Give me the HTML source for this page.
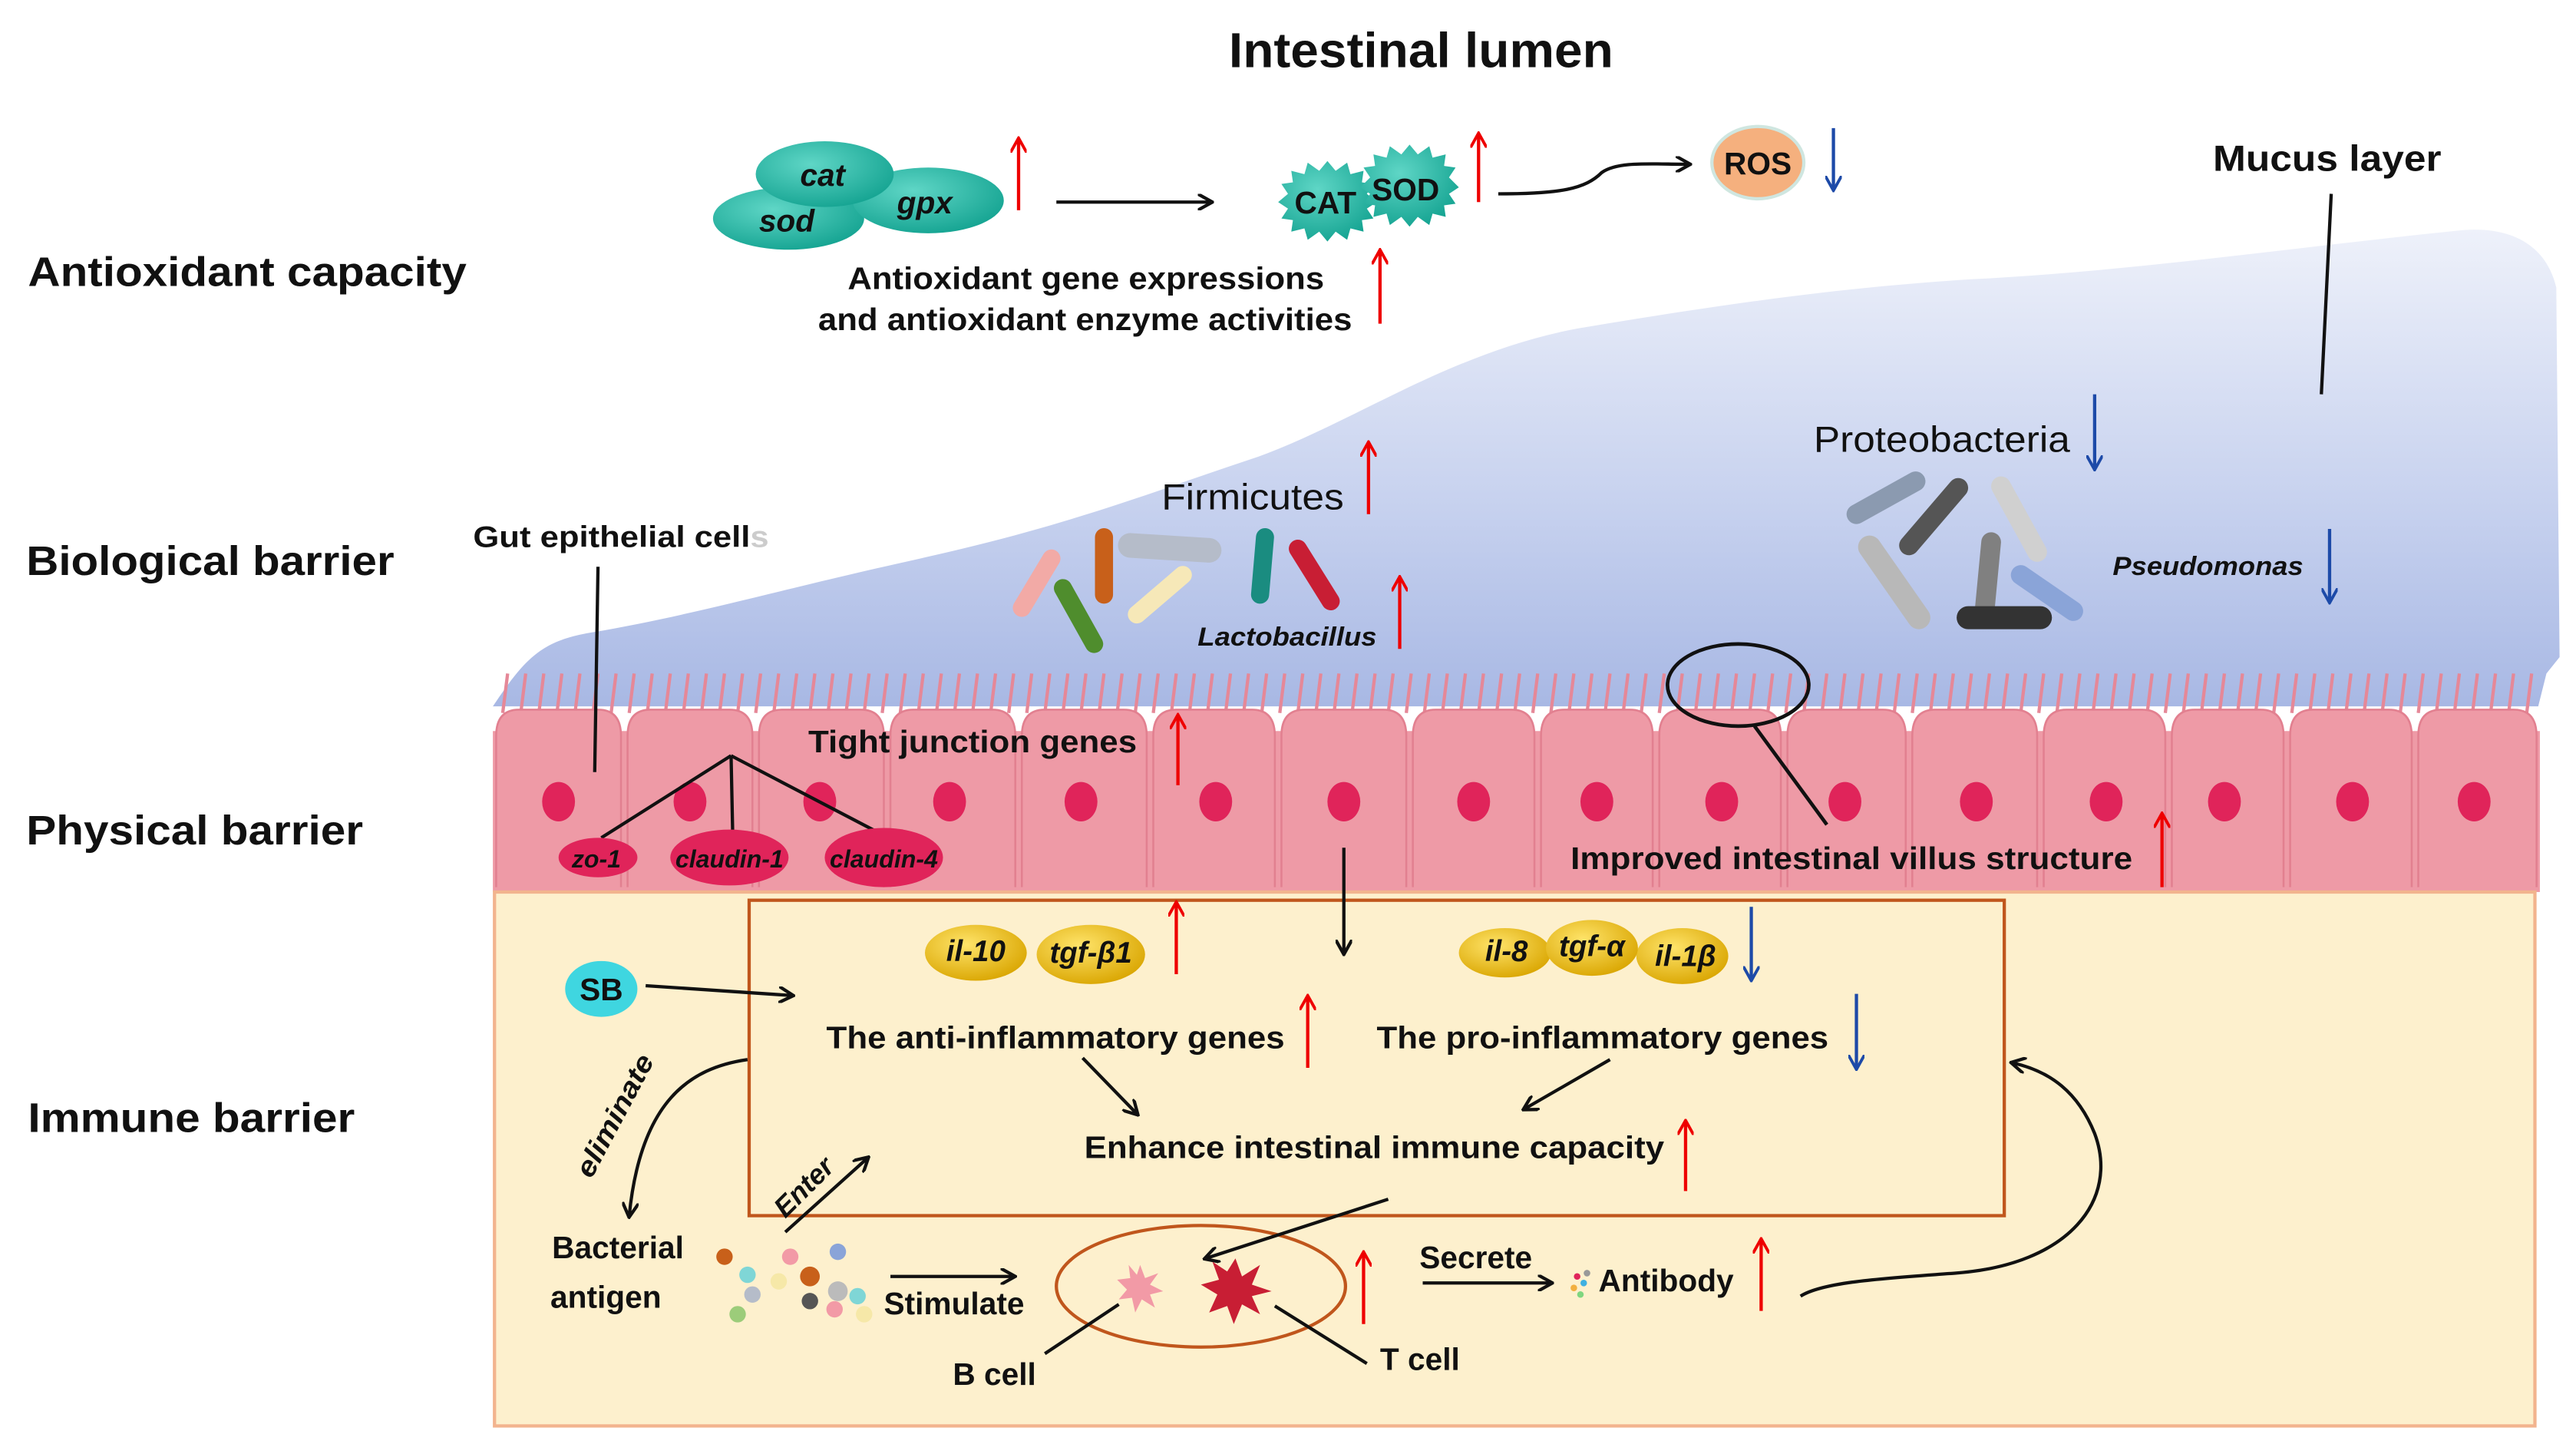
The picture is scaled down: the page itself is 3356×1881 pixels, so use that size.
<!DOCTYPE html>
<html><head><meta charset="utf-8"><style>
html,body{margin:0;padding:0;background:#fff;}
svg{display:block;}
text{font-family:"Liberation Sans",Arial,sans-serif;font-weight:bold;}
</style></head><body>
<svg width="3356" height="1881" viewBox="0 0 1568 879" preserveAspectRatio="none" xmlns="http://www.w3.org/2000/svg">
<defs>
<linearGradient id="mu" x1="0" y1="0" x2="0" y2="1">
<stop offset="0" stop-color="#eef1fa"/><stop offset="0.6" stop-color="#c5d0ee"/><stop offset="1" stop-color="#a8b8e4"/></linearGradient>
<radialGradient id="tl" cx="0.4" cy="0.35" r="0.7"><stop offset="0" stop-color="#5fd6c6"/><stop offset="1" stop-color="#14a391"/></radialGradient>
<radialGradient id="yl" cx="0.4" cy="0.35" r="0.7"><stop offset="0" stop-color="#ffe46a"/><stop offset="1" stop-color="#d9a500"/></radialGradient>
<marker id="ak" markerWidth="10" markerHeight="10" refX="8" refY="5" orient="auto" markerUnits="userSpaceOnUse"><path d="M0,0 L9,5 L0,10" fill="none" stroke="#111" stroke-width="2"/></marker>
<marker id="ar" markerWidth="10" markerHeight="10" refX="8" refY="5" orient="auto" markerUnits="userSpaceOnUse"><path d="M0,0 L9,5 L0,10" fill="none" stroke="#e00" stroke-width="1.8"/></marker>
<marker id="ab" markerWidth="10" markerHeight="10" refX="8" refY="5" orient="auto" markerUnits="userSpaceOnUse"><path d="M0,0 L9,5 L0,10" fill="none" stroke="#1d4aa8" stroke-width="1.8"/></marker>
</defs>

<path d="M300,430 C320,400 330,390 360,385 C420,375 470,360 560,340 C650,320 700,300 760,280 C820,260 880,215 960,200 C1050,185 1120,175 1200,170 C1300,165 1400,150 1500,140 C1530,138 1550,150 1556,175 L1558,400 L1550,410 L1545,430 Z" fill="url(#mu)"/>
<g stroke="#e58898" stroke-width="2" id="villi"></g>
<rect x="300" y="445" width="1246" height="98" fill="#ee9aa6"/>
<path fill="#ee9aa6" stroke="#e28090" stroke-width="1.2" d="
M302,540 L302,448 Q302,432 316,432 L364,432 Q378,432 378,448 L378,540
M382,540 L382,448 Q382,432 396,432 L444,432 Q458,432 458,448 L458,540
M462,540 L462,448 Q462,432 476,432 L524,432 Q538,432 538,448 L538,540
M542,540 L542,448 Q542,432 556,432 L604,432 Q618,432 618,448 L618,540
M622,540 L622,448 Q622,432 636,432 L684,432 Q698,432 698,448 L698,540
M702,540 L702,448 Q702,432 716,432 L762,432 Q776,432 776,448 L776,540
M780,540 L780,448 Q780,432 794,432 L842,432 Q856,432 856,448 L856,540
M860,540 L860,448 Q860,432 874,432 L920,432 Q934,432 934,448 L934,540
M938,540 L938,448 Q938,432 952,432 L992,432 Q1006,432 1006,448 L1006,540
M1010,540 L1010,448 Q1010,432 1024,432 L1070,432 Q1084,432 1084,448 L1084,540
M1088,540 L1088,448 Q1088,432 1102,432 L1146,432 Q1160,432 1160,448 L1160,540
M1164,540 L1164,448 Q1164,432 1178,432 L1226,432 Q1240,432 1240,448 L1240,540
M1244,540 L1244,448 Q1244,432 1258,432 L1304,432 Q1318,432 1318,448 L1318,540
M1322,540 L1322,448 Q1322,432 1336,432 L1376,432 Q1390,432 1390,448 L1390,540
M1394,540 L1394,448 Q1394,432 1408,432 L1454,432 Q1468,432 1468,448 L1468,540
M1472,540 L1472,448 Q1472,432 1486,432 L1530,432 Q1544,432 1544,448 L1544,540"/>
<g fill="#e0245a">
<ellipse cx="340" cy="488" rx="10" ry="12"/><ellipse cx="420" cy="488" rx="10" ry="12"/><ellipse cx="499" cy="488" rx="10" ry="12"/><ellipse cx="578" cy="488" rx="10" ry="12"/><ellipse cx="658" cy="488" rx="10" ry="12"/><ellipse cx="740" cy="488" rx="10" ry="12"/><ellipse cx="818" cy="488" rx="10" ry="12"/><ellipse cx="897" cy="488" rx="10" ry="12"/><ellipse cx="972" cy="488" rx="10" ry="12"/><ellipse cx="1048" cy="488" rx="10" ry="12"/><ellipse cx="1123" cy="488" rx="10" ry="12"/><ellipse cx="1203" cy="488" rx="10" ry="12"/><ellipse cx="1282" cy="488" rx="10" ry="12"/><ellipse cx="1354" cy="488" rx="10" ry="12"/><ellipse cx="1432" cy="488" rx="10" ry="12"/><ellipse cx="1506" cy="488" rx="10" ry="12"/>
</g>

<rect x="301" y="543" width="1242" height="325" fill="#fdf0cd" stroke="#f2b48e" stroke-width="2"/>
<rect x="456" y="548" width="764" height="192" fill="none" stroke="#c0561c" stroke-width="2"/>

<text x="748" y="41" font-size="30" textLength="234" lengthAdjust="spacingAndGlyphs" fill="#111">Intestinal lumen</text>
<g font-size="25" fill="#111">
<text x="17" y="174" textLength="267" lengthAdjust="spacingAndGlyphs">Antioxidant capacity</text>
<text x="16" y="350" textLength="224" lengthAdjust="spacingAndGlyphs">Biological barrier</text>
<text x="16" y="514" textLength="205" lengthAdjust="spacingAndGlyphs">Physical barrier</text>
<text x="17" y="689" textLength="199" lengthAdjust="spacingAndGlyphs">Immune barrier</text>
</g>

<ellipse cx="480" cy="133" rx="46" ry="19" fill="url(#tl)"/>
<ellipse cx="565" cy="122" rx="46" ry="20" fill="url(#tl)"/>
<ellipse cx="502" cy="106" rx="42" ry="20" fill="url(#tl)"/>
<g font-size="19" fill="#111" font-style="italic"><text x="487" y="113">cat</text><text x="462" y="141">sod</text><text x="546" y="130">gpx</text></g>
<line x1="620" y1="128" x2="620" y2="85" stroke="#e00" stroke-width="2" marker-end="url(#ar)"/>
<line x1="643" y1="123" x2="737" y2="123" stroke="#111" stroke-width="2" marker-end="url(#ak)"/>
<polygon points="808,98 813,104 820,99 822,106 830,104 829,111 836,112 832,118 838,123 832,127 836,133 829,134 830,141 822,139 820,146 813,141 808,147 803,141 796,146 794,139 786,141 787,134 780,133 784,127 778,123 784,118 780,112 787,111 786,104 794,106 796,99 803,104" fill="url(#tl)"/>
<polygon points="858,88 863,94 870,89 872,96 880,94 879,101 886,102 882,108 888,114 882,118 886,124 879,125 880,132 872,130 870,137 863,132 858,138 853,132 846,137 844,130 836,132 837,125 830,124 834,118 828,114 834,108 830,102 837,101 836,94 844,96 846,89 853,94" fill="url(#tl)"/>
<g font-size="19" fill="#111"><text x="788" y="130">CAT</text><text x="835" y="122">SOD</text></g>
<line x1="900" y1="123" x2="900" y2="82" stroke="#e00" stroke-width="2" marker-end="url(#ar)"/>
<path d="M912,118 C950,118 965,115 975,105 C985,98 1005,100 1028,100" fill="none" stroke="#111" stroke-width="2" marker-end="url(#ak)"/>
<ellipse cx="1070" cy="99" rx="28" ry="22" fill="#f5b07e" stroke="#cfe6e0" stroke-width="2"/>
<text x="1070" y="106" font-size="19" text-anchor="middle" fill="#111">ROS</text>
<line x1="1116" y1="78" x2="1116" y2="115" stroke="#1d4aa8" stroke-width="2" marker-end="url(#ab)"/>
<g font-size="19" fill="#111"><text x="516" y="176" textLength="290" lengthAdjust="spacingAndGlyphs">Antioxidant gene expressions</text><text x="498" y="201" textLength="325" lengthAdjust="spacingAndGlyphs">and antioxidant enzyme activities</text></g>
<line x1="840" y1="197" x2="840" y2="153" stroke="#e00" stroke-width="2" marker-end="url(#ar)"/>

<text x="1347" y="104" font-size="22" textLength="139" lengthAdjust="spacingAndGlyphs" fill="#111">Mucus layer</text>
<line x1="1419" y1="118" x2="1413" y2="240" stroke="#111" stroke-width="2"/>

<text x="707" y="310" font-size="22" style="font-weight:normal" textLength="111" lengthAdjust="spacingAndGlyphs" fill="#111">Firmicutes</text>
<line x1="833" y1="313" x2="833" y2="270" stroke="#e00" stroke-width="2" marker-end="url(#ar)"/>
<g stroke-linecap="round" stroke-width="11">
<line x1="622" y1="370" x2="640" y2="340" stroke="#f2aaa6"/>
<line x1="647" y1="358" x2="666" y2="392" stroke="#4f8d2d"/>
<line x1="672" y1="327" x2="672" y2="362" stroke="#c8601a"/>
<line x1="688" y1="332" x2="736" y2="335" stroke="#b5bcc9" stroke-width="15"/>
<line x1="692" y1="374" x2="720" y2="350" stroke="#f6e8b8"/>
<line x1="770" y1="327" x2="767" y2="362" stroke="#1a8c80"/>
<line x1="790" y1="334" x2="810" y2="366" stroke="#c81e34"/>
</g>
<text x="729" y="393" font-size="16" font-style="italic" textLength="109" lengthAdjust="spacingAndGlyphs" fill="#111">Lactobacillus</text>
<line x1="852" y1="395" x2="852" y2="352" stroke="#e00" stroke-width="2" marker-end="url(#ar)"/>
<text x="1104" y="275" font-size="22" style="font-weight:normal" textLength="156" lengthAdjust="spacingAndGlyphs" fill="#111">Proteobacteria</text>
<line x1="1275" y1="240" x2="1275" y2="285" stroke="#1d4aa8" stroke-width="2" marker-end="url(#ab)"/>
<g stroke-linecap="round" stroke-width="12">
<line x1="1130" y1="313" x2="1166" y2="293" stroke="#8b9ab0"/>
<line x1="1162" y1="332" x2="1192" y2="297" stroke="#555"/>
<line x1="1218" y1="296" x2="1240" y2="336" stroke="#d0d0d0"/>
<line x1="1138" y1="333" x2="1168" y2="376" stroke="#b8b8b8" stroke-width="14"/>
<line x1="1212" y1="330" x2="1208" y2="372" stroke="#808080"/>
<line x1="1198" y1="376" x2="1242" y2="376" stroke="#333" stroke-width="14"/>
<line x1="1230" y1="350" x2="1262" y2="372" stroke="#8aa4d8"/>
</g>
<text x="1286" y="350" font-size="16" font-style="italic" textLength="116" lengthAdjust="spacingAndGlyphs" fill="#111">Pseudomonas</text>
<line x1="1418" y1="322" x2="1418" y2="366" stroke="#1d4aa8" stroke-width="2" marker-end="url(#ab)"/>

<text x="288" y="333" font-size="18" textLength="180" lengthAdjust="spacingAndGlyphs" fill="#111">Gut epithelial cell<tspan fill="#ccc">s</tspan></text>
<line x1="364" y1="345" x2="362" y2="470" stroke="#111" stroke-width="2"/>
<ellipse cx="1058" cy="417" rx="43" ry="25" fill="none" stroke="#111" stroke-width="2.2"/>
<line x1="1068" y1="442" x2="1112" y2="502" stroke="#111" stroke-width="2.2"/>

<text x="492" y="458" font-size="19" textLength="200" lengthAdjust="spacingAndGlyphs" fill="#111">Tight junction genes</text>
<line x1="717" y1="478" x2="717" y2="436" stroke="#e00" stroke-width="2" marker-end="url(#ar)"/>
<g stroke="#111" stroke-width="2"><line x1="445" y1="460" x2="366" y2="510"/><line x1="445" y1="460" x2="446" y2="508"/><line x1="445" y1="460" x2="537" y2="508"/></g>
<ellipse cx="364" cy="522" rx="24" ry="12" fill="#e0245a"/>
<ellipse cx="444" cy="522" rx="36" ry="17" fill="#e0245a"/>
<ellipse cx="538" cy="522" rx="36" ry="18" fill="#e0245a"/>
<g font-size="15" font-style="italic" fill="#111" text-anchor="middle"><text x="363" y="528">zo-1</text><text x="444" y="528">claudin-1</text><text x="538" y="528">claudin-4</text></g>
<text x="956" y="529" font-size="19" textLength="342" lengthAdjust="spacingAndGlyphs" fill="#111">Improved intestinal villus structure</text>
<line x1="1316" y1="540" x2="1316" y2="496" stroke="#e00" stroke-width="2" marker-end="url(#ar)"/>
<line x1="818" y1="516" x2="818" y2="580" stroke="#111" stroke-width="2" marker-end="url(#ak)"/>

<ellipse cx="594" cy="580" rx="31" ry="17" fill="url(#yl)"/>
<ellipse cx="664" cy="581" rx="33" ry="18" fill="url(#yl)"/>
<ellipse cx="916" cy="580" rx="28" ry="15" fill="url(#yl)"/>
<ellipse cx="1024" cy="582" rx="28" ry="17" fill="url(#yl)"/>
<ellipse cx="969" cy="577" rx="28" ry="17" fill="url(#yl)"/>
<g font-size="18" font-style="italic" fill="#111" text-anchor="middle"><text x="594" y="585">il-10</text><text x="664" y="586">tgf-β1</text><text x="917" y="585">il-8</text><text x="969" y="582">tgf-α</text><text x="1026" y="588">il-1β</text></g>
<line x1="716" y1="593" x2="716" y2="550" stroke="#e00" stroke-width="2" marker-end="url(#ar)"/>
<line x1="1066" y1="552" x2="1066" y2="596" stroke="#1d4aa8" stroke-width="2" marker-end="url(#ab)"/>
<ellipse cx="366" cy="602" rx="22" ry="17" fill="#3fd6e0"/>
<text x="366" y="609" font-size="19" text-anchor="middle" fill="#111">SB</text>
<line x1="393" y1="600" x2="482" y2="606" stroke="#111" stroke-width="2" marker-end="url(#ak)"/>
<g font-size="19" fill="#111"><text x="503" y="638" textLength="279" lengthAdjust="spacingAndGlyphs">The anti-inflammatory genes</text><text x="838" y="638" textLength="275" lengthAdjust="spacingAndGlyphs">The pro-inflammatory genes</text><text x="660" y="705" textLength="353" lengthAdjust="spacingAndGlyphs">Enhance intestinal immune capacity</text></g>
<line x1="796" y1="650" x2="796" y2="607" stroke="#e00" stroke-width="2" marker-end="url(#ar)"/>
<line x1="1130" y1="605" x2="1130" y2="650" stroke="#1d4aa8" stroke-width="2" marker-end="url(#ab)"/>
<line x1="1026" y1="725" x2="1026" y2="683" stroke="#e00" stroke-width="2" marker-end="url(#ar)"/>
<line x1="659" y1="644" x2="692" y2="678" stroke="#111" stroke-width="2" marker-end="url(#ak)"/>
<line x1="980" y1="645" x2="928" y2="675" stroke="#111" stroke-width="2" marker-end="url(#ak)"/>
<path d="M455,645 C420,650 390,670 383,740" fill="none" stroke="#111" stroke-width="2" marker-end="url(#ak)"/>
<text transform="translate(360,718) rotate(-62)" font-size="17" font-style="italic" fill="#111" textLength="82" lengthAdjust="spacingAndGlyphs">eliminate</text>
<text transform="translate(478,742) rotate(-45)" font-size="17" font-style="italic" fill="#111">Enter</text>
<line x1="478" y1="750" x2="528" y2="705" stroke="#111" stroke-width="2" marker-end="url(#ak)"/>
<g font-size="19" fill="#111"><text x="336" y="766">Bacterial</text><text x="335" y="796">antigen</text><text x="538" y="800">Stimulate</text><text x="864" y="772">Secrete</text><text x="973" y="786">Antibody</text><text x="580" y="843">B cell</text><text x="840" y="834">T cell</text></g>
<g>
<circle cx="441" cy="765" r="5" fill="#c8601a"/><circle cx="481" cy="765" r="5" fill="#f29aa6"/><circle cx="510" cy="762" r="5" fill="#8aa4d8"/><circle cx="455" cy="776" r="5" fill="#7fd6d6"/><circle cx="474" cy="780" r="5" fill="#f6e8a8"/><circle cx="493" cy="777" r="6" fill="#c8601a"/><circle cx="510" cy="786" r="6" fill="#bbb"/><circle cx="522" cy="789" r="5" fill="#7fd6d6"/><circle cx="458" cy="788" r="5" fill="#b5bcc9"/><circle cx="493" cy="792" r="5" fill="#555"/><circle cx="508" cy="797" r="5" fill="#f29aa6"/><circle cx="526" cy="800" r="5" fill="#f6e8a8"/><circle cx="449" cy="800" r="5" fill="#9ccc7a"/>
</g>
<line x1="542" y1="777" x2="617" y2="777" stroke="#111" stroke-width="2" marker-end="url(#ak)"/>
<ellipse cx="731" cy="783" rx="88" ry="37" fill="none" stroke="#c0561c" stroke-width="2"/>
<line x1="845" y1="730" x2="734" y2="766" stroke="#111" stroke-width="2" marker-end="url(#ak)"/>
<polygon points="694,770 697,778 705,775 700,782 708,786 700,788 703,796 695,791 691,799 689,790 681,791 686,785 680,779 688,778 687,770 692,776" fill="#f29aa6"/>
<polygon points="752,766 756,777 767,770 762,782 774,786 762,789 767,800 756,794 751,806 747,795 736,799 741,788 731,782 742,779 738,768 747,774" fill="#c81e34"/>
<line x1="681" y1="794" x2="636" y2="824" stroke="#111" stroke-width="2"/>
<line x1="776" y1="795" x2="832" y2="830" stroke="#111" stroke-width="2"/>
<line x1="830" y1="806" x2="830" y2="763" stroke="#e00" stroke-width="2" marker-end="url(#ar)"/>
<line x1="866" y1="781" x2="944" y2="781" stroke="#111" stroke-width="2" marker-end="url(#ak)"/>
<g><circle cx="960" cy="777" r="2" fill="#e0245a"/><circle cx="964" cy="781" r="2" fill="#3fb0e0"/><circle cx="958" cy="784" r="2" fill="#f2b040"/><circle cx="962" cy="788" r="2" fill="#7fd67f"/><circle cx="966" cy="775" r="2" fill="#999"/></g>
<line x1="1072" y1="798" x2="1072" y2="755" stroke="#e00" stroke-width="2" marker-end="url(#ar)"/>
<path d="M1096,789 C1110,780 1150,778 1190,775 C1260,770 1290,730 1275,690 C1265,665 1248,652 1225,647" fill="none" stroke="#111" stroke-width="2" marker-end="url(#ak)"/>
</svg>
<script>
(function(){var g=document.getElementById('villi');var s='';for(var x=306;x<1545;x+=11){s+='M'+x+',434 l3,-24 ';}var p=document.createElementNS('http://www.w3.org/2000/svg','path');p.setAttribute('d',s);g.appendChild(p);})();
</script>
</body></html>
